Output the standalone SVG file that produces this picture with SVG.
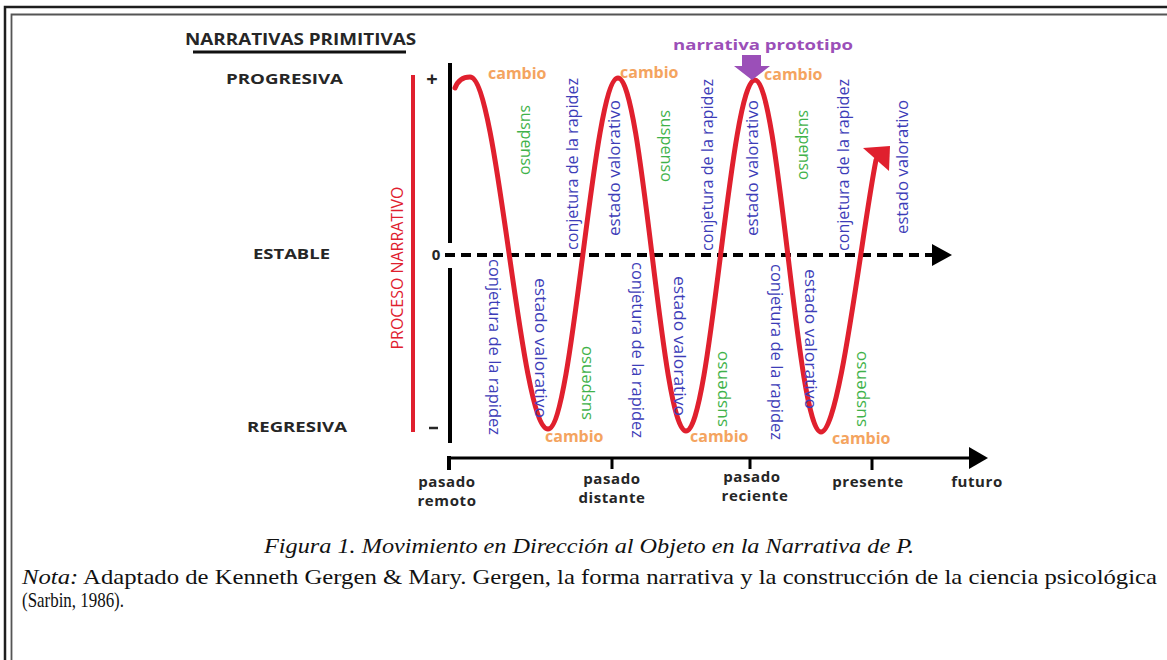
<svg xmlns="http://www.w3.org/2000/svg" width="1167" height="660" viewBox="0 0 1167 660">
<style>
.hd{font-family:"Open Sans","Liberation Sans",sans-serif;font-weight:700;fill:#262626}
.bl{font-family:"Open Sans","Liberation Sans",sans-serif;font-size:16px;fill:#3d3db8}
.gr{font-family:"Open Sans","Liberation Sans",sans-serif;font-size:16px;fill:#3fb24a}
.cb{font-family:"Open Sans","Liberation Sans",sans-serif;font-size:16px;font-weight:700;fill:#f4a460}
.tm{font-family:"Open Sans","Liberation Sans",sans-serif;font-size:15px;font-weight:700;fill:#262626;text-anchor:middle;letter-spacing:0.6px}
.cap{font-family:"Liberation Serif","Times New Roman",serif;font-size:21px;fill:#111}
</style>
<rect width="1167" height="660" fill="#fff"/>
<g id="frame" fill="none">
<path d="M5 660 V7 H1167" stroke="#1e1e1e" stroke-width="2.5"/>
<path d="M11.5 660 V14.5 H1167" stroke="#555" stroke-width="1.8"/>
</g>
<g id="title">
<text class="hd" x="185" y="45" font-size="16" textLength="231" lengthAdjust="spacingAndGlyphs">NARRATIVAS PRIMITIVAS</text>
<line x1="193" y1="52" x2="406" y2="52" stroke="#111" stroke-width="3"/>
</g>
<g id="levels">
<text class="hd" x="226" y="84" font-size="15" textLength="117" lengthAdjust="spacingAndGlyphs">PROGRESIVA</text>
<text class="hd" x="253" y="259" font-size="15" textLength="77" lengthAdjust="spacingAndGlyphs">ESTABLE</text>
<text class="hd" x="247" y="432" font-size="15" textLength="100" lengthAdjust="spacingAndGlyphs">REGRESIVA</text>
</g>
<g id="proceso">
<line x1="413" y1="75" x2="413" y2="432" stroke="#e0202e" stroke-width="4"/>
<text transform="translate(403,268) rotate(-90)" text-anchor="middle" font-family="Open Sans, Liberation Sans, sans-serif" font-size="17" fill="#e0202e" textLength="163" lengthAdjust="spacingAndGlyphs">PROCESO NARRATIVO</text>
</g>
<g id="axes">
<text class="hd" x="432" y="86" font-size="20" text-anchor="middle">+</text>
<text class="hd" x="436" y="260" font-size="15" text-anchor="middle">0</text>
<line x1="429" y1="428" x2="438" y2="428" stroke="#262626" stroke-width="2.5"/>
<line x1="450" y1="63" x2="450" y2="243" stroke="#000" stroke-width="4"/>
<line x1="450" y1="268" x2="450" y2="443" stroke="#000" stroke-width="4"/>
<line x1="445" y1="255" x2="934" y2="255" stroke="#000" stroke-width="4" stroke-dasharray="10 6"/>
<polygon points="932,244 952,255 932,266" fill="#000"/>
<line x1="447" y1="458" x2="972" y2="458" stroke="#000" stroke-width="3"/>
<polygon points="969,447 988,458 969,469" fill="#000"/>
<line x1="449" y1="456" x2="449" y2="470" stroke="#000" stroke-width="4"/>
<line x1="612" y1="458" x2="612" y2="469" stroke="#000" stroke-width="3"/>
<line x1="750" y1="458" x2="750" y2="469" stroke="#000" stroke-width="3"/>
<line x1="872" y1="458" x2="872" y2="470" stroke="#000" stroke-width="3"/>
</g>
<g id="time-labels">
<text class="tm" x="447" y="487">pasado</text>
<text class="tm" x="447" y="506">remoto</text>
<text class="tm" x="612" y="484">pasado</text>
<text class="tm" x="612" y="503">distante</text>
<text class="tm" x="752" y="482">pasado</text>
<text class="tm" x="755" y="501">reciente</text>
<text class="tm" x="868" y="487">presente</text>
<text class="tm" x="977" y="487">futuro</text>
</g>
<g id="curve">
<path d="M455 88 C458 80 464 77 470 77 C498 77 520 429 548 429 C573 429 593 78 618 78 C643 78 661 431 686 431 C711 431 730 80 755 80 C779 80 797 432 821 432 C840 432 862 230 876 160" fill="none" stroke="#e0202e" stroke-width="5" stroke-linecap="round"/>
<polygon points="863,148 890,146 889,171" fill="#e0202e"/>
</g>
<g id="prototipo">
<text x="763" y="50" text-anchor="middle" font-family="Open Sans, Liberation Sans, sans-serif" font-size="15" font-weight="700" fill="#9b4fb8" textLength="180" lengthAdjust="spacingAndGlyphs">narrativa prototipo</text>
<polygon points="742,55 761,55 761,66 770,66 752,80 734,66 742,66" fill="#9b4fb8"/>
</g>
<g id="cambio-labels">
<text class="cb" x="488" y="79">cambio</text>
<text class="cb" x="620" y="78">cambio</text>
<text class="cb" x="764" y="80">cambio</text>
<text class="cb" x="545" y="442">cambio</text>
<text class="cb" x="690" y="442">cambio</text>
<text class="cb" x="832" y="444">cambio</text>
</g>
<g id="upper-labels">
<text class="bl" transform="translate(578,164) rotate(-90)" text-anchor="middle" textLength="172" lengthAdjust="spacingAndGlyphs">conjetura de la rapidez</text>
<text class="bl" transform="translate(620,168) rotate(-90)" text-anchor="middle" textLength="136" lengthAdjust="spacingAndGlyphs">estado valorativo</text>
<text class="bl" transform="translate(713,165) rotate(-90)" text-anchor="middle" textLength="172" lengthAdjust="spacingAndGlyphs">conjetura de la rapidez</text>
<text class="bl" transform="translate(758,168) rotate(-90)" text-anchor="middle" textLength="136" lengthAdjust="spacingAndGlyphs">estado valorativo</text>
<text class="bl" transform="translate(849,165) rotate(-90)" text-anchor="middle" textLength="172" lengthAdjust="spacingAndGlyphs">conjetura de la rapidez</text>
<text class="bl" transform="translate(908,167) rotate(-90)" text-anchor="middle" textLength="134" lengthAdjust="spacingAndGlyphs">estado valorativo</text>
<text class="gr" transform="translate(521,140) rotate(90)" text-anchor="middle" textLength="70" lengthAdjust="spacingAndGlyphs">suspenso</text>
<text class="gr" transform="translate(661,146) rotate(90)" text-anchor="middle" textLength="72" lengthAdjust="spacingAndGlyphs">suspenso</text>
<text class="gr" transform="translate(799,145) rotate(90)" text-anchor="middle" textLength="70" lengthAdjust="spacingAndGlyphs">suspenso</text>
</g>
<g id="lower-labels">
<text class="bl" transform="translate(489,347) rotate(90)" text-anchor="middle" textLength="176" lengthAdjust="spacingAndGlyphs">conjetura de la rapidez</text>
<text class="bl" transform="translate(535,348) rotate(90)" text-anchor="middle" textLength="140" lengthAdjust="spacingAndGlyphs">estado valorativo</text>
<text class="bl" transform="translate(632,350) rotate(90)" text-anchor="middle" textLength="176" lengthAdjust="spacingAndGlyphs">conjetura de la rapidez</text>
<text class="bl" transform="translate(674,346) rotate(90)" text-anchor="middle" textLength="140" lengthAdjust="spacingAndGlyphs">estado valorativo</text>
<text class="bl" transform="translate(771,352) rotate(90)" text-anchor="middle" textLength="176" lengthAdjust="spacingAndGlyphs">conjetura de la rapidez</text>
<text class="bl" transform="translate(805,339) rotate(90)" text-anchor="middle" textLength="140" lengthAdjust="spacingAndGlyphs">estado valorativo</text>
<text class="gr" transform="translate(591,383) rotate(-90)" text-anchor="middle" textLength="74" lengthAdjust="spacingAndGlyphs">suspenso</text>
<text class="gr" transform="translate(727,389) rotate(-90)" text-anchor="middle" textLength="76" lengthAdjust="spacingAndGlyphs">suspenso</text>
<text class="gr" transform="translate(866,389) rotate(-90)" text-anchor="middle" textLength="76" lengthAdjust="spacingAndGlyphs">suspenso</text>
</g>
<g id="caption">
<text class="cap" x="589" y="553" text-anchor="middle" font-style="italic" textLength="650" lengthAdjust="spacingAndGlyphs">Figura 1. Movimiento en Dirección al Objeto en la Narrativa de P.</text>
<text class="cap" x="22" y="584" textLength="1135" lengthAdjust="spacingAndGlyphs"><tspan font-style="italic">Nota:</tspan> Adaptado de Kenneth Gergen &amp; Mary. Gergen, la forma narrativa y la construcción de la ciencia psicológica</text>
<text class="cap" x="22" y="607" textLength="102" lengthAdjust="spacingAndGlyphs">(Sarbin, 1986).</text>
</g>
</svg>
